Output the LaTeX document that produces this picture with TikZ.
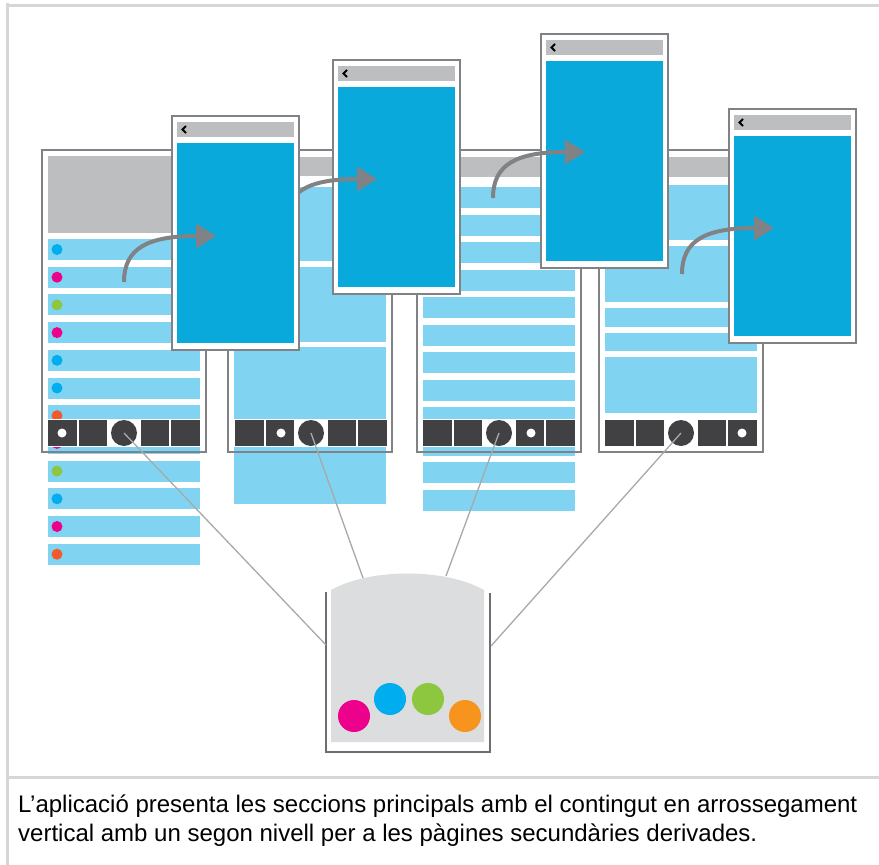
\documentclass[tikz,border=0pt]{standalone}
\usepackage{fontspec}
\setmainfont{Liberation Sans}
\usetikzlibrary{arrows.meta}
\definecolor{lblue}{HTML}{80D4F1}
\definecolor{vblue}{HTML}{0AA9DB}
\definecolor{hgrey}{HTML}{BCBEC0}
\definecolor{darknav}{HTML}{414042}
\definecolor{frameg}{HTML}{808285}
\definecolor{boxfill}{HTML}{DCDDDE}
\definecolor{wallc}{HTML}{6D6E71}
\definecolor{connc}{HTML}{A7A9AC}
\definecolor{borderc}{HTML}{D6D6D6}
\definecolor{dblue}{HTML}{00AEEF}
\definecolor{dmag}{HTML}{EC008C}
\definecolor{dgreen}{HTML}{8DC63F}
\definecolor{dorange}{HTML}{F15A2B}
\definecolor{borange}{HTML}{F7941E}
\newcommand{\navbar}[3]{%
  \fill[white] ({#1-1},419) rectangle ({#1+153},447);
  \fill[darknav] (#1,420) rectangle ({#1+29},446);
  \fill[darknav] ({#1+31},420) rectangle ({#1+59},446);
  \fill[darknav] ({#1+93},420) rectangle ({#1+121},446);
  \fill[darknav] ({#1+123},420) rectangle ({#1+152},446);
  \node[navc] (#3) at ({#1+76},433) {};
  \fill[white] ({#1+#2},433) circle[radius=4.5pt];
}
\newcommand{\secscr}[2]{%
  \fill[white] (#1,#2) rectangle ({#1+127},{#2+234});
  \draw[scrframe] (#1,#2) rectangle ({#1+127},{#2+234});
  \fill[hgrey] ({#1+5},{#2+6}) rectangle ({#1+122},{#2+21});
  \fill[vblue] ({#1+5},{#2+27}) rectangle ({#1+122},{#2+227});
  \draw[black, line width=2pt] ({#1+14},{#2+10}) -- ({#1+10.5},{#2+13.5}) -- ({#1+14},{#2+17});
}
\begin{document}
\begin{tikzpicture}[x=1pt,y=-1pt,
  scrframe/.style={draw=frameg, line width=2pt},
  navc/.style={circle, fill=darknav, minimum size=26pt, inner sep=0pt},
  arr/.style={draw=frameg, line width=4pt, -{Triangle[length=20pt,width=24pt]}},
  conn/.style={draw=connc, line width=1.3pt},
  ball/.style={circle, minimum size=32pt, inner sep=0pt}]
\useasboundingbox (0,0) rectangle (879,865);
\fill[white] (0,0) rectangle (879,865);
% outer frame lines
\draw[borderc, line width=3pt] (5.5,5.3) -- (879,5.3);
\draw[borderc, line width=3pt] (7,3) -- (7,865);
\draw[borderc, line width=3pt] (7,777.5) -- (879,777.5);

% ---------- screen 1
\fill[white] (42,150) rectangle (206,452);
\fill[hgrey] (48,156) rectangle (200,233);
\foreach \i/\col in {0/dblue,1/dmag,2/dgreen,3/dmag,4/dblue,5/dblue,6/dorange,7/dmag,8/dgreen,9/dblue,10/dmag,11/dorange}{
  \fill[lblue] (48,{239+27.7*\i}) rectangle (200,{260+27.7*\i});
  \fill[\col] (57,{249.5+27.7*\i}) circle[radius=5.5pt];
}
\navbar{48}{14}{nav1}
\draw[scrframe] (42,150) rectangle (206,452);

% ---------- screen 2
\fill[white] (228,150) rectangle (392,452);
\fill[hgrey] (234,157) rectangle (386,176);
\fill[lblue] (234,187) rectangle (386,261);
\fill[lblue] (234,267) rectangle (386,342);
\fill[lblue] (234,347) rectangle (386,504);
\navbar{235}{46}{nav2}
\draw[scrframe] (228,150) rectangle (392,452);

% ---------- screen 3
\fill[white] (417,150) rectangle (581,452);
\fill[hgrey] (423,157) rectangle (575,177);
\foreach \i in {0,...,11}{
  \fill[lblue] (423,{187+27.5*\i}) rectangle (575,{208+27.5*\i});
}
\navbar{423}{108}{nav3}
\draw[scrframe] (417,150) rectangle (581,452);

% ---------- screen 4
\fill[white] (599,150) rectangle (763,452);
\fill[hgrey] (605,157) rectangle (757,177);
\fill[lblue] (605,185) rectangle (757,240);
\fill[lblue] (605,246) rectangle (757,302);
\fill[lblue] (605,308) rectangle (757,327);
\fill[lblue] (605,333) rectangle (757,351);
\fill[lblue] (605,357) rectangle (757,413);
\navbar{605}{137}{nav4}
\draw[scrframe] (599,150) rectangle (763,452);

% ---------- secondary screens and arrows
\coordinate (a1s) at (124,282); \coordinate (a1e) at (216,236);
\coordinate (a2s) at (285,225); \coordinate (a2e) at (377,179);
\coordinate (a3s) at (493,198); \coordinate (a3e) at (585,152);
\coordinate (a4s) at (682,274); \coordinate (a4e) at (774,228);
\secscr{333}{60}
\draw[arr] (a2s) .. controls +(0,-34) and +(-68,0) .. (a2e);
\secscr{172}{116}
\draw[arr] (a1s) .. controls +(0,-34) and +(-68,0) .. (a1e);
\secscr{541}{34}
\draw[arr] (a3s) .. controls +(0,-34) and +(-68,0) .. (a3e);
\secscr{729}{109}
\draw[arr] (a4s) .. controls +(0,-34) and +(-68,0) .. (a4e);

% ---------- container box
\fill[boxfill] (331,742) -- (331,590) .. controls (370,568) and (445,568) .. (484,590) -- (484,742) -- cycle;
\draw[wallc, line width=2.5pt] (326,592) -- (326,752) -- (490,752) -- (490,593);
\node[ball, fill=dmag] (bm) at (354,716) {};
\node[ball, fill=dblue] (bb) at (390,699) {};
\node[ball, fill=dgreen] (bg) at (428,699) {};
\node[ball, fill=borange] (bo) at (465,716) {};

% ---------- connectors
\coordinate (w1) at (326,645);
\coordinate (w2) at (363,578);
\coordinate (w3) at (446,576);
\coordinate (w4) at (491,646);
\draw[conn] (nav1.center) -- (w1);
\draw[conn] (nav2.center) -- (w2);
\draw[conn] (nav3.center) -- (w3);
\draw[conn] (nav4.center) -- (w4);

% ---------- caption
\node[anchor=base west, inner sep=0pt, font=\fontsize{24}{29}\selectfont] (cap1) at (18,812) {L’aplicació presenta les seccions principals amb el contingut en arrossegament};
\node[anchor=base west, inner sep=0pt, font=\fontsize{24}{29}\selectfont] (cap2) at (18,841) {vertical amb un segon nivell per a les pàgines secundàries derivades.};
\end{tikzpicture}
\end{document}
